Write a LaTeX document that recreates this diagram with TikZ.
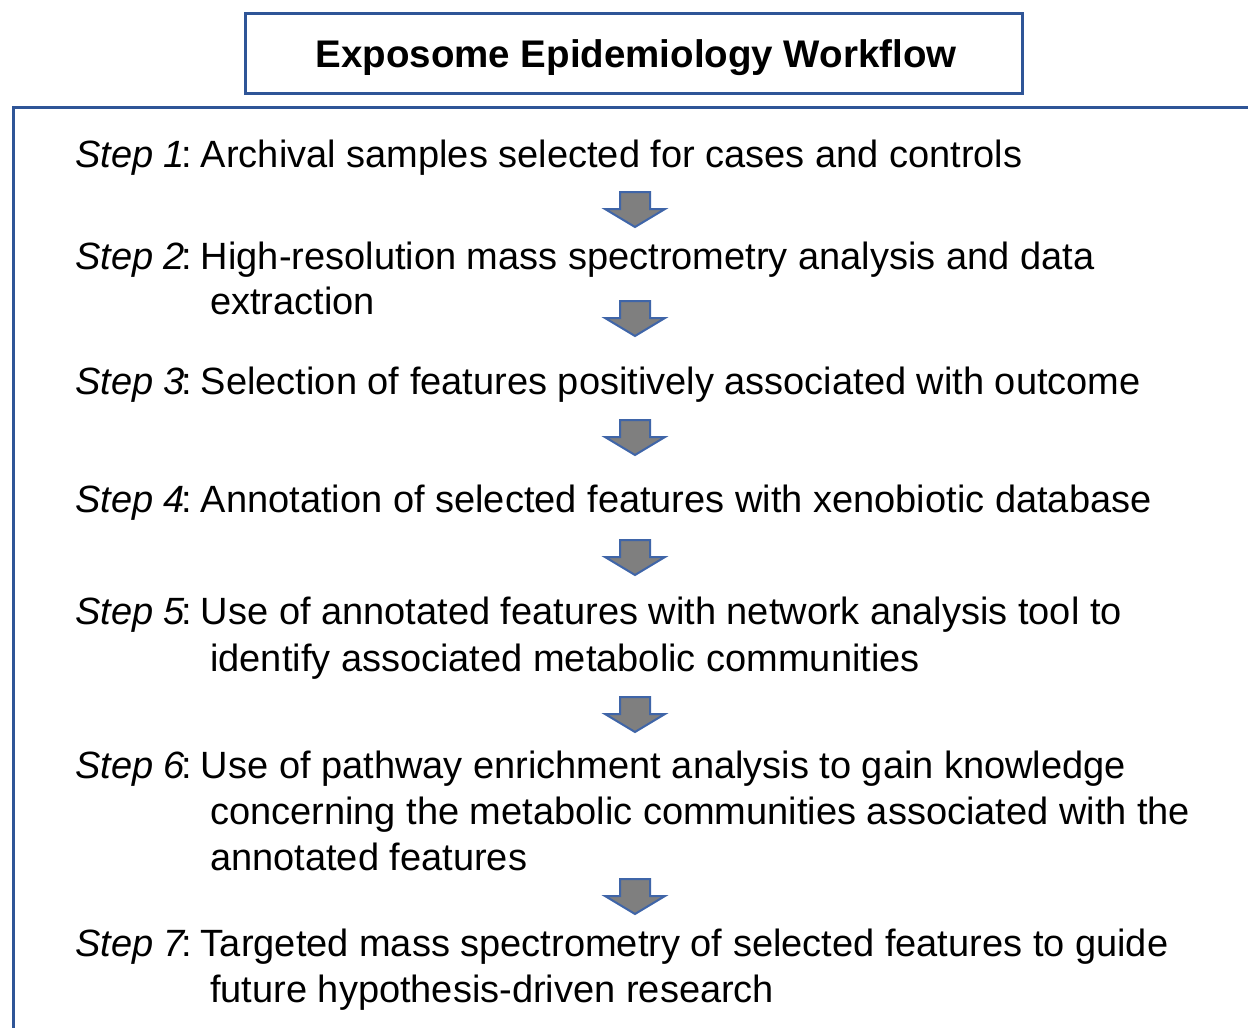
\documentclass[tikz,border=0pt]{standalone}
\usepackage{fontspec}
\setmainfont{Liberation Sans}
\definecolor{boxblue}{HTML}{2F5597}
\definecolor{arrowgrey}{HTML}{7F7F7F}
\definecolor{arrowedge}{HTML}{3F65A8}
\newcommand{\stp}[1]{{\itshape Step #1}\kern-0.1em:\hspace{0.24em}}
\begin{document}
\begin{tikzpicture}[x=1pt,y=-1pt,
  steptext/.style={anchor=base west,inner sep=0pt,font=\fontsize{38}{46}\selectfont},
  titletext/.style={inner sep=0pt,font=\fontsize{38.5}{46}\selectfont\bfseries},
  frame/.style={draw=boxblue,line width=3pt},
  blockarrow/.pic={\draw[fill=arrowgrey,draw=arrowedge,line width=2pt,line join=miter]
     (-15,0) -- (15,0) -- (15,17) -- (30,17) -- (0,35) -- (-30,17) -- (-15,17) -- cycle;}]
\useasboundingbox (0,0) rectangle (1248,1028);
\fill[white] (0,0) rectangle (1248,1028);
% title
\draw[frame] (245,13) rectangle (1022,93);
\node[titletext,anchor=base] (title) at (636,67) {Exposome Epidemiology Workflow};
% big frame
\draw[frame] (13,1040) -- (13,107) -- (1260,107);
% steps
\node[steptext] (s1) at (75,167) {\stp{1}Archival samples selected for cases and controls};
\node[steptext] (s2) at (75,269) {\stp{2}High-resolution mass spectrometry analysis and data};
\node[steptext] (s2b) at (210,314) {extraction};
\node[steptext] (s3) at (75,394) {\stp{3}Selection of features positively associated with outcome};
\node[steptext] (s4) at (75,512) {\stp{4}Annotation of selected features with xenobiotic database};
\node[steptext] (s5) at (75,624) {\stp{5}Use of annotated features with network analysis tool to};
\node[steptext] (s5b) at (210,671) {identify associated metabolic communities};
\node[steptext] (s6) at (75,778) {\stp{6}Use of pathway enrichment analysis to gain knowledge};
\node[steptext] (s6b) at (210,824) {concerning the metabolic communities associated with the};
\node[steptext] (s6c) at (210,870) {annotated features};
\node[steptext] (s7) at (75,956) {\stp{7}Targeted mass spectrometry of selected features to guide};
\node[steptext] (s7b) at (210,1002) {future hypothesis-driven research};
% arrows
\pic at (635,192) {blockarrow};
\pic at (635,301) {blockarrow};
\pic at (635,420) {blockarrow};
\pic at (635,540) {blockarrow};
\pic at (635,697) {blockarrow};
\pic at (635,879) {blockarrow};
\end{tikzpicture}
\end{document}
